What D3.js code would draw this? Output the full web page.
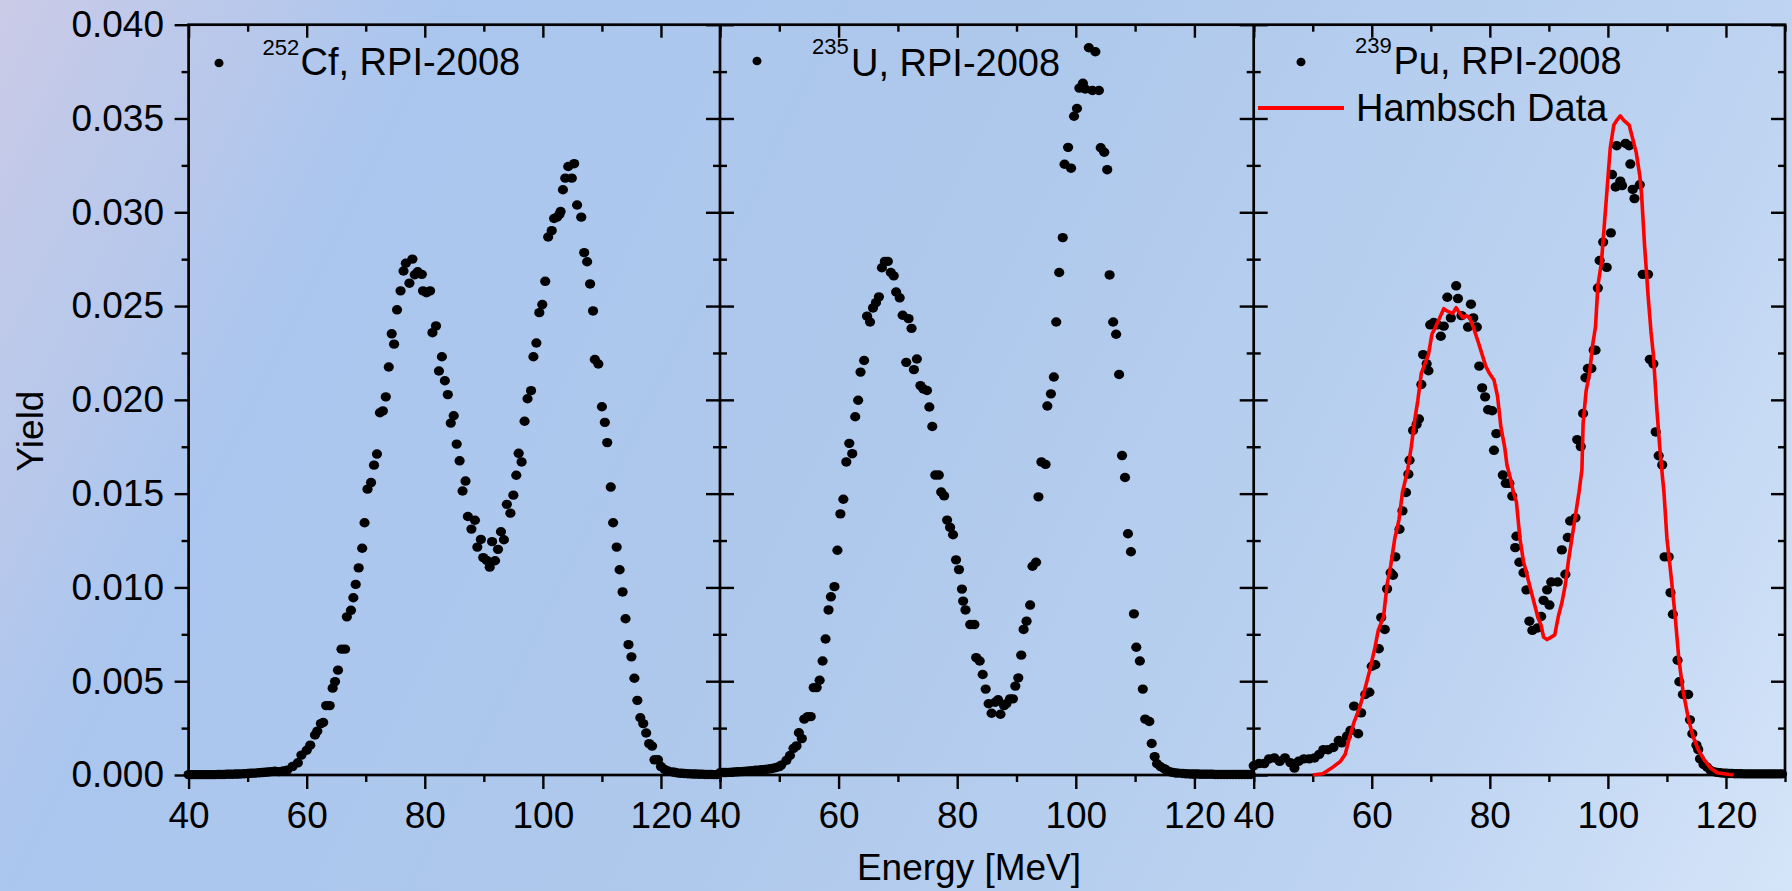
<!DOCTYPE html>
<html>
<head>
<meta charset="utf-8">
<script src="https://cdn.jsdelivr.net/npm/d3@7"></script>
<style>
  html, body { margin: 0; padding: 0; }
  body { width: 1792px; height: 891px; overflow: hidden; }
  svg text { font-family: "Liberation Sans", Arial, sans-serif; fill: #000; }
  .tick line { stroke: #000; stroke-width: 2.4; }
  .tick text { font-size: 37px; }
</style>
</head>
<body>
<svg id="chart" width="1792" height="891"></svg>
<script>
// ---------------- DATA ----------------
const xMajorTicks = [40, 60, 80, 100, 120];
const xMinorTicks = [50, 70, 90, 110, 130];
const yMajorTicks = [0, 0.005, 0.010, 0.015, 0.020, 0.025, 0.030, 0.035, 0.040];
const yTickLabels = ["0.000", "0.005", "0.010", "0.015", "0.020", "0.025", "0.030", "0.035", "0.040"];
const yMinorTicks = [0.0025, 0.0075, 0.0125, 0.0175, 0.0225, 0.0275, 0.0325, 0.0375];

const xLabel = "Energy [MeV]";
const yLabel = "Yield";

// 252Cf, RPI-2008  [energy MeV, yield]
const cf252 = [
  [40,0.00002],[40.5,0.00002],[41,0.00002],[41.5,0.00002],[42,0.00002],[42.5,0.00002],[43,0.00002],[43.5,0.00002],
  [44,0.00002],[44.5,0.00002],[45,0.00003],[45.5,0.00003],[46,0.00003],[46.5,0.00004],[47,0.00004],[47.5,0.00004],
  [48,0.00005],[48.5,0.00005],[49,0.00006],[49.5,0.00007],[50,0.00008],[50.5,0.00009],[51,0.0001],[51.5,0.00011],
  [52,0.00012],[52.5,0.00013],[53,0.00015],[53.5,0.00016],[54,0.00018],[54.6,0.0002],[55.3,0.00018],[56.0,0.00022],
  [56.7,0.00026],[57.6,0.00045],[58.5,0.00065],[59.1,0.00106],[60.0,0.00132],[60.6,0.00159],[61.4,0.00213],[61.8,0.00234],
  [62.4,0.00274],[62.8,0.0028],[63.3,0.0037],[63.9,0.0037],[64.4,0.00463],[64.8,0.00498],[65.3,0.00559],[65.9,0.00671],
  [66.5,0.00671],[66.8,0.00843],[67.5,0.00878],[67.9,0.00945],[68.3,0.01016],[68.8,0.01104],[69.4,0.01209],[69.8,0.01345],
  [70.3,0.01524],[70.9,0.01559],[71.4,0.01652],[71.9,0.01711],[72.4,0.01931],[72.9,0.01941],[73.4,0.02016],[73.9,0.02175],
  [74.4,0.02352],[74.8,0.02297],[75.3,0.0248],[75.9,0.02581],[76.4,0.02687],[76.8,0.02728],[77.4,0.02622],[77.9,0.0275],
  [78.3,0.02667],[78.8,0.02683],[79.5,0.02669],[79.7,0.02581],[80.3,0.02571],[80.9,0.02581],[81.3,0.02358],[81.9,0.02394],
  [82.4,0.02154],[82.9,0.0223],[83.4,0.02102],[83.9,0.02028],[84.4,0.01876],[84.9,0.01915],[85.4,0.01764],[85.9,0.01675],
  [86.4,0.01514],[86.9,0.01567],[87.3,0.01378],[87.9,0.01311],[88.5,0.01358],[88.9,0.01215],[89.5,0.01256],[89.9,0.01159],
  [90.5,0.01144],[91.0,0.01108],[91.4,0.01244],[91.9,0.01142],[92.4,0.01203],[92.9,0.01297],[93.4,0.01254],[93.9,0.01443],
  [94.5,0.01396],[95.0,0.01492],[95.5,0.01598],[95.9,0.01715],[96.4,0.01669],[96.9,0.01886],[97.4,0.02006],[98.0,0.02049],
  [98.4,0.0223],[98.9,0.02303],[99.4,0.02465],[99.9,0.02508],[100.4,0.02632],[100.9,0.02868],[101.5,0.02902],[101.9,0.02967],
  [102.4,0.02974],[102.8,0.02988],[103.0,0.03004],[103.4,0.0312],[103.8,0.03182],[104.3,0.03244],[104.9,0.03182],[105.3,0.03259],
  [105.8,0.03039],[106.5,0.02974],[107.0,0.02785],[107.5,0.02736],[108.0,0.02618],[108.5,0.02474],[108.8,0.02215],[109.4,0.02191],
  [110.0,0.01963],[110.5,0.0188],[110.9,0.01772],[111.5,0.01535],[111.9,0.01345],[112.5,0.01215],[113.0,0.01094],[113.5,0.00976],
  [114.0,0.00833],[114.5,0.00695],[115.0,0.0063],[115.5,0.00516],[116.0,0.00398],[116.5,0.00305],[117.0,0.00274],[117.5,0.00224],
  [118.0,0.00167],[118.5,0.00154],[118.9,0.00081],[119.5,0.00081],[120.0,0.00045],[120.6,0.0003],[121.2,0.00021],[122,0.00016],
  [122.5,0.00013],[123,0.0001],[123.5,0.00009],[124,0.00008],[124.5,0.00007],[125,0.00006],[125.5,0.00005],[126,0.00005],
  [126.5,0.00004],[127,0.00004],[127.5,0.00003],[128,0.00003],[128.5,0.00003],[129,0.00002],[129.5,0.00002]
];

// 235U, RPI-2008
const u235 = [
  [40,0.00012],[40.5,0.00013],[41,0.00013],[41.5,0.00014],[42,0.00015],[42.5,0.00016],[43,0.00017],[43.5,0.00018],
  [44,0.00019],[44.5,0.0002],[45,0.00022],[45.5,0.00023],[46,0.00025],[46.5,0.00026],[47,0.00028],[47.5,0.0003],
  [48,0.00031],[48.5,0.00033],[49,0.00036],[49.5,0.0004],[50.0,0.00045],[50.3,0.00052],[51.2,0.00078],[51.8,0.00104],
  [52.4,0.00142],[52.9,0.00155],[53.3,0.00225],[53.8,0.00194],[54.2,0.00298],[54.8,0.00311],[55.3,0.00311],[55.8,0.00466],
  [56.3,0.00466],[56.8,0.00505],[57.3,0.00608],[57.8,0.00725],[58.3,0.0088],[58.7,0.0095],[59.3,0.01004],[59.8,0.01198],
  [60.3,0.01392],[60.8,0.0147],[61.3,0.01669],[61.8,0.01768],[62.3,0.01713],[62.8,0.0191],[63.3,0.01998],[63.7,0.02148],
  [64.3,0.0221],[64.8,0.02446],[65.3,0.02415],[65.8,0.0249],[66.3,0.02518],[66.8,0.02549],[67.3,0.02704],[67.8,0.02738],
  [68.3,0.02738],[68.8,0.02679],[69.3,0.02661],[69.7,0.02575],[70.3,0.02544],[70.8,0.02451],[71.4,0.022],[71.8,0.02433],
  [72.3,0.02381],[72.7,0.02161],[73.2,0.02218],[73.8,0.02076],[74.3,0.02058],[74.9,0.0205],[75.3,0.01962],[75.8,0.01858],
  [76.3,0.01599],[76.9,0.01599],[77.3,0.01509],[77.8,0.01488],[78.3,0.01359],[78.8,0.0132],[79.3,0.01281],[79.8,0.01147],
  [80.3,0.01095],[80.8,0.00991],[81.0,0.00927],[81.4,0.0088],[82.2,0.00802],[82.9,0.00802],[83.2,0.00626],[83.8,0.00608],
  [84.3,0.00536],[84.8,0.00458],[85.3,0.0038],[85.8,0.00329],[86.4,0.00388],[86.9,0.00401],[87.3,0.00324],[87.9,0.0037],
  [88.3,0.0038],[88.9,0.00406],[89.4,0.00406],[89.8,0.00474],[90.3,0.00518],[90.8,0.00639],[91.2,0.00776],[91.7,0.0082],
  [92.3,0.00906],[92.7,0.01113],[93.3,0.01134],[93.7,0.01483],[94.2,0.01669],[94.9,0.01656],[95.2,0.01967],[95.8,0.02032],
  [96.3,0.02122],[96.7,0.02415],[97.2,0.02679],[97.8,0.02865],[98.1,0.03256],[98.7,0.03346],[99.2,0.03235],[99.7,0.03512],
  [100.2,0.03553],[100.6,0.03662],[101.2,0.03688],[101.6,0.03657],[102.2,0.03877],[102.8,0.03649],[103.3,0.03856],[103.9,0.03649],
  [104.2,0.03344],[104.8,0.0332],[105.3,0.03227],[105.7,0.02666],[106.3,0.02415],[106.8,0.0235],[107.3,0.02135],[107.8,0.01703],
  [108.3,0.01586],[108.8,0.01286],[109.3,0.0119],[109.8,0.00859],[110.2,0.00681],[110.8,0.00608],[111.3,0.00458],[111.7,0.00298],
  [112.4,0.00285],[112.8,0.00168],[113.3,0.00098],[113.7,0.0006],[114.3,0.00044],[114.9,0.00034],[115.3,0.00025],[115.8,0.00018],
  [116.3,0.00014],[116.8,0.00011],[117.3,0.0001],[118,0.00008],[118.5,0.00007],[119,0.00006],[119.5,0.00005],[120,0.00005],
  [120.5,0.00005],[121,0.00004],[121.5,0.00004],[122,0.00004],[122.5,0.00004],[123,0.00004],[123.5,0.00003],[124,0.00003],
  [124.5,0.00003],[125,0.00003],[125.5,0.00003],[126,0.00003],[126.5,0.00003],[127,0.00003],[127.5,0.00003],[128,0.00003],
  [128.5,0.00003],[129,0.00003],[129.5,0.00003]
];

// 239Pu, RPI-2008
const pu239 = [
  [40.0,0.00049],[40.9,0.00061],[41.8,0.00061],[42.6,0.00086],[43.5,0.00091],[44.4,0.00073],[45.3,0.00091],[46.2,0.00066],
  [46.9,0.00037],[47.6,0.00073],[48.5,0.00086],[49.4,0.00086],[50.3,0.00091],[51.1,0.0011],[51.8,0.00135],[52.6,0.00135],
  [53.5,0.00147],[54.4,0.00184],[54.9,0.00171],[55.8,0.00208],[56.4,0.00238],[57.0,0.00367],[57.7,0.0022],[58.2,0.00331],
  [58.9,0.00429],[59.6,0.00441],[60.0,0.0058],[60.6,0.00588],[61.2,0.00673],[61.6,0.0084],[62.2,0.00776],[62.6,0.00992],
  [63.2,0.01078],[63.6,0.01065],[64.0,0.01163],[64.7,0.0131],[65.2,0.01408],[65.8,0.01506],[66.2,0.01604],[66.4,0.01678],
  [67.0,0.01837],[67.6,0.01869],[68.0,0.01898],[68.4,0.02082],[68.7,0.02241],[69.3,0.02192],[69.6,0.02155],[69.9,0.024],
  [70.5,0.02412],[71.1,0.024],[71.7,0.02339],[72.2,0.02393],[72.8,0.02547],[73.4,0.02437],[74.3,0.02608],[74.6,0.0254],
  [75.2,0.02449],[76.3,0.02388],[76.8,0.0251],[77.2,0.02437],[77.8,0.02388],[78.2,0.0218],[78.7,0.02064],[79.2,0.02016],
  [79.7,0.01947],[80.4,0.01942],[80.7,0.01731],[81.1,0.0182],[82.2,0.01599],[82.7,0.01555],[83.3,0.01555],[83.8,0.01487],
  [84.3,0.01212],[84.5,0.01273],[85.0,0.01134],[85.7,0.01078],[86.2,0.00987],[86.7,0.0082],[87.2,0.00771],[88.1,0.00784],
  [88.7,0.00845],[89.1,0.00931],[89.7,0.00987],[90.1,0.00906],[90.4,0.01029],[91.5,0.01029],[92.2,0.012],[92.8,0.0107],
  [93.2,0.01266],[93.6,0.01354],[94.5,0.01371],[94.8,0.01788],[95.4,0.01751],[95.8,0.01927],[96.2,0.02118],[96.6,0.02167],
  [97.2,0.02167],[97.6,0.02265],[97.9,0.02265],[98.3,0.02596],[98.6,0.02743],[99.2,0.02841],[99.8,0.02706],[100.5,0.0289],
  [100.7,0.03201],[101.3,0.03135],[101.5,0.03355],[102.1,0.03166],[102.4,0.03142],[103.0,0.03367],[103.6,0.03355],[103.8,0.03257],
  [104.2,0.03122],[104.5,0.03073],[105.4,0.03147],[105.9,0.02669],[106.8,0.02669],[107.1,0.02216],[107.7,0.02192],[108.1,0.01829],
  [108.6,0.01702],[109.2,0.01653],[109.6,0.01163],[110.3,0.01163],[110.6,0.00972],[111.0,0.00857],[111.8,0.00612],[112.1,0.00497],
  [112.7,0.00429],[113.6,0.00429],[113.9,0.00294],[114.3,0.0022],[115.0,0.00159],[115.3,0.00135],[115.6,0.00086],[116.2,0.00056],
  [116.8,0.00042],[117.4,0.00024],[117.9,0.00018],[118.5,0.00014],[119,0.00012],[119.5,0.0001],[120,0.00009],[120.5,0.00008],
  [121,0.00008],[121.5,0.00007],[122,0.00007],[122.5,0.00007],[123,0.00006],[123.5,0.00006],[124,0.00006],[124.5,0.00006],
  [125,0.00006],[125.5,0.00006],[126,0.00006],[126.5,0.00006],[127,0.00006],[127.5,0.00006],[128,0.00006],[128.5,0.00006],
  [129,0.00006],[129.5,0.00006]
];

// Hambsch Data (239Pu)
const hambsch = [
  [50.0,0],[51.7,0.00007],[53.2,0.00037],[54.7,0.00073],[55.5,0.0011],[56.1,0.00184],[57.0,0.00282],[57.9,0.00355],
  [58.8,0.00453],[59.6,0.00551],[60.5,0.00673],[61.1,0.00771],[62.0,0.00845],[62.6,0.01016],[63.2,0.01114],[63.9,0.01261],
  [64.6,0.01359],[65.2,0.01506],[66.1,0.01629],[66.7,0.01751],[67.3,0.01898],[67.8,0.01996],[68.4,0.02143],[69.0,0.02192],
  [69.6,0.02241],[70.2,0.02351],[70.8,0.02388],[71.5,0.02437],[72.2,0.02486],[72.8,0.02473],[73.7,0.02461],[74.3,0.02491],
  [74.9,0.02461],[75.5,0.02437],[76.0,0.02449],[76.6,0.02437],[77.2,0.02388],[78.1,0.02302],[78.7,0.02241],[79.3,0.0218],
  [79.9,0.02143],[80.7,0.02106],[81.3,0.0202],[81.9,0.01849],[82.5,0.01751],[82.9,0.01653],[83.5,0.0158],[84.0,0.01506],
  [84.5,0.01457],[85.1,0.01261],[85.7,0.01139],[86.3,0.01065],[86.9,0.00992],[87.5,0.00918],[88.1,0.00845],[88.7,0.00796],
  [89.1,0.00735],[89.7,0.00722],[90.4,0.00735],[91.0,0.00747],[91.6,0.00845],[92.2,0.00918],[92.8,0.01016],[93.3,0.01139],
  [93.9,0.01261],[94.5,0.01384],[95.1,0.01506],[95.6,0.01629],[95.8,0.01873],[96.3,0.02045],[96.9,0.02143],[97.4,0.0229],
  [97.9,0.02388],[98.3,0.02608],[98.9,0.02731],[99.2,0.02853],[99.8,0.03098],[100.4,0.03343],[101.0,0.03465],[101.5,0.0349],
  [102.1,0.03514],[102.7,0.0349],[103.6,0.03465],[104.2,0.03392],[104.8,0.03318],[105.4,0.03196],[105.7,0.03098],[106.2,0.02829],
  [106.8,0.02559],[107.3,0.02363],[107.7,0.02241],[108.3,0.01947],[108.9,0.01702],[109.5,0.01506],[110.0,0.01261],[110.6,0.0109],
  [111.4,0.00845],[112.0,0.00624],[112.7,0.00453],[113.6,0.00306],[114.4,0.00208],[115.3,0.00135],[116.2,0.00086],[117.4,0.00037],
  [118.5,0.00012],[121.2,0]
];

// ---------------- DRAWING ----------------
const W = 1792, H = 891;
const svg = d3.select("#chart");

// background gradient
const defs = svg.append("defs");
const grad = defs.append("linearGradient").attr("id", "bg")
  .attr("gradientUnits", "userSpaceOnUse")
  .attr("x1", 0).attr("y1", 0).attr("x2", W).attr("y2", H);
[[0, "#cacbe7"], [0.2, "#abc6ee"], [0.5, "#afc9ec"], [0.8, "#bdd3f1"], [1, "#d5e5f9"]]
  .forEach(([o, c]) => grad.append("stop").attr("offset", o).attr("stop-color", c));
svg.append("rect").attr("width", W).attr("height", H).attr("fill", "url(#bg)");

const plotTop = 24.7, plotBottom = 775;
const edges = [188.6, 720, 1253.7, 1785];
const y = d3.scaleLinear().domain([0, 0.04]).range([plotBottom, plotTop]);
const xs = [0, 1, 2].map(i => d3.scaleLinear().domain([40, 130]).range([edges[i], edges[i + 1]]));

const series = [cf252, u235, pu239];

function clean(g) { g.select(".domain").remove(); }

// x axes
xs.forEach((x, i) => {
  svg.append("g").attr("transform", `translate(0,${plotBottom})`)
    .call(d3.axisBottom(x).tickValues(xMajorTicks).tickSize(14).tickPadding(13).tickFormat(d3.format("d")))
    .call(clean);
  svg.append("g").attr("transform", `translate(0,${plotBottom})`)
    .call(d3.axisBottom(x).tickValues(xMinorTicks).tickSize(7).tickFormat(""))
    .call(clean);
  svg.append("g").attr("transform", `translate(0,${plotTop})`)
    .call(d3.axisBottom(x).tickValues(xMajorTicks).tickSize(13).tickFormat(""))
    .call(clean);
  svg.append("g").attr("transform", `translate(0,${plotTop})`)
    .call(d3.axisBottom(x).tickValues(xMinorTicks).tickSize(7).tickFormat(""))
    .call(clean);
});

// y axes
function yAxis(xpos, gen, labels) {
  const major = gen(y).tickValues(yMajorTicks).tickSize(14);
  if (labels) major.tickPadding(10.6).tickFormat((d, i) => yTickLabels[i]);
  else major.tickFormat("");
  svg.append("g").attr("transform", `translate(${xpos},0)`).call(major).call(clean);
  svg.append("g").attr("transform", `translate(${xpos},0)`)
    .call(gen(y).tickValues(yMinorTicks).tickSize(7).tickFormat("")).call(clean);
}
yAxis(edges[0], d3.axisLeft, true);
yAxis(edges[1], d3.axisLeft, false);
yAxis(edges[1], d3.axisRight, false);
yAxis(edges[2], d3.axisLeft, false);
yAxis(edges[2], d3.axisRight, false);
yAxis(edges[3], d3.axisLeft, false);

// frame
svg.append("rect").attr("x", edges[0]).attr("y", plotTop)
  .attr("width", edges[3] - edges[0]).attr("height", plotBottom - plotTop)
  .attr("fill", "none").attr("stroke", "#000").attr("stroke-width", 2.7);
[edges[1], edges[2]].forEach(xp => {
  svg.append("line").attr("x1", xp).attr("x2", xp).attr("y1", plotTop).attr("y2", plotBottom)
    .attr("stroke", "#000").attr("stroke-width", 2.7);
});

// data points
series.forEach((data, i) => {
  svg.append("g").selectAll("ellipse").data(data).join("ellipse")
    .attr("cx", d => xs[i](d[0])).attr("cy", d => y(d[1])).attr("rx", 5.1).attr("ry", 4.7).attr("fill", "#000");
});

// Hambsch line
svg.append("path").datum(hambsch)
  .attr("d", d3.line().x(d => xs[2](d[0])).y(d => y(d[1])))
  .attr("fill", "none").attr("stroke", "#ff0000").attr("stroke-width", 3.6).attr("stroke-linejoin", "round");

// legends
const legends = [
  { dot: [219, 63], sup: "252", supX: 262.5, supY: 55, main: "Cf, RPI-2008", mainX: 300.5, mainY: 75 },
  { dot: [757, 61], sup: "235", supX: 812, supY: 54, main: "U, RPI-2008", mainX: 851, mainY: 76 },
  { dot: [1301, 62], sup: "239", supX: 1355, supY: 53, main: "Pu, RPI-2008", mainX: 1393.5, mainY: 74 }
];
legends.forEach(l => {
  svg.append("ellipse").attr("cx", l.dot[0]).attr("cy", l.dot[1]).attr("rx", 4.5).attr("ry", 4.3).attr("fill", "#000");
  svg.append("text").attr("x", l.supX).attr("y", l.supY).attr("font-size", 22).text(l.sup);
  svg.append("text").attr("x", l.mainX).attr("y", l.mainY).attr("font-size", 38).text(l.main);
});
svg.append("line").attr("x1", 1258).attr("x2", 1344).attr("y1", 108).attr("y2", 108)
  .attr("stroke", "#ff0000").attr("stroke-width", 3.8);
svg.append("text").attr("x", 1356).attr("y", 121).attr("font-size", 38).text("Hambsch Data");

// axis titles
svg.append("text").attr("x", 969).attr("y", 880).attr("text-anchor", "middle")
  .attr("font-size", 37).text(xLabel);
svg.append("text").attr("transform", "translate(43,431) rotate(-90)").attr("text-anchor", "middle")
  .attr("font-size", 37).text(yLabel);
</script>
</body>
</html>
